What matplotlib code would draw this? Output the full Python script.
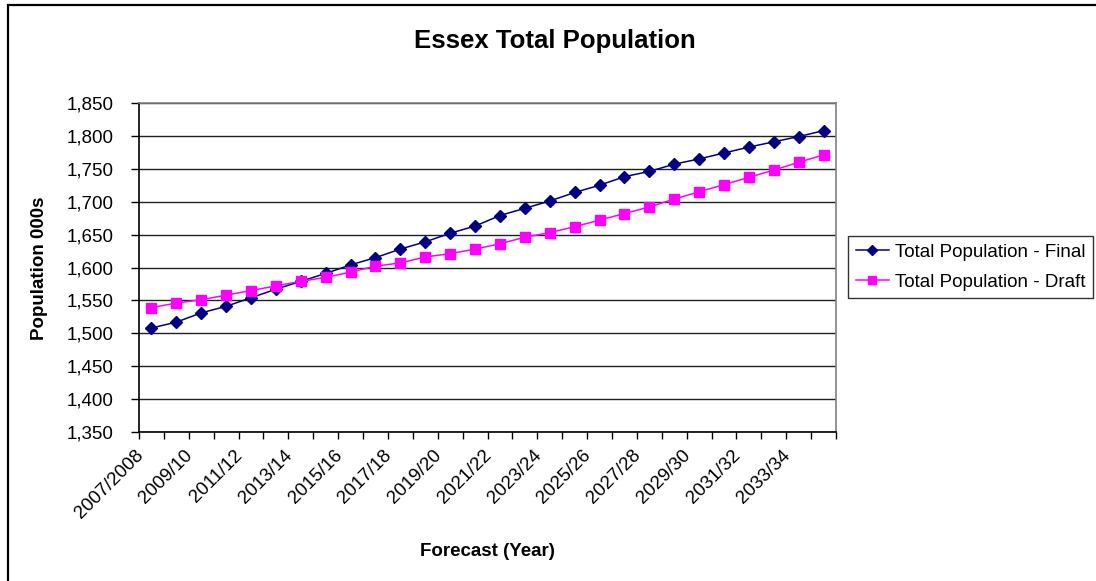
import matplotlib
matplotlib.use("Agg")
import matplotlib.pyplot as plt
from matplotlib.patches import Rectangle
from matplotlib.ticker import FuncFormatter, FixedLocator, NullLocator
from matplotlib.transforms import ScaledTranslation

plt.rcParams['font.family'] = ['Liberation Sans', 'DejaVu Sans']

years = ["2007/2008", "2008/09", "2009/10", "2010/11", "2011/12", "2012/13", "2013/14",
         "2014/15", "2015/16", "2016/17", "2017/18", "2018/19", "2019/20", "2020/21",
         "2021/22", "2022/23", "2023/24", "2024/25", "2025/26", "2026/27", "2027/28",
         "2028/29", "2029/30", "2030/31", "2031/32", "2032/33", "2033/34", "2034/35"]
final = [1508, 1517, 1531, 1541, 1554, 1567, 1579, 1591, 1604, 1615, 1628, 1639, 1652, 1663,
         1679, 1690, 1701, 1714, 1725, 1738, 1746, 1757, 1765, 1774, 1783, 1791, 1799, 1808]
draft = [1539, 1546, 1551, 1558, 1565, 1572, 1579, 1585, 1593, 1602, 1607, 1616, 1621, 1628,
         1636, 1646, 1653, 1662, 1672, 1682, 1692, 1704, 1715, 1726, 1737, 1748, 1760, 1771]

W, H = 1096, 581
fig = plt.figure(figsize=(W / 100, H / 100), dpi=100)
fig.patch.set_facecolor('white')

# chart border (only top/left visible in the reference)
fig.add_artist(Rectangle((8 / W, -0.05), 1.2, 1 - 5 / H + 0.05, transform=fig.transFigure,
                         fill=False, edgecolor='black', linewidth=1.6, clip_on=False))

ax = fig.add_axes([139 / W, 1 - 432 / H, (836 - 139) / W, (432 - 103) / H])

x = list(range(len(years)))
ax.plot(x, final, color='#000080', marker='D', markersize=6, linewidth=1.1,
        label='Total Population - Final', zorder=3)
ax.plot(x, draft, color='#FF00FF', marker='s', markersize=6.5, linewidth=1.1,
        label='Total Population - Draft', zorder=3)

ax.set_xlim(-0.5, len(years) - 0.5)
ax.set_ylim(1350, 1850)
ax.set_yticks(range(1350, 1851, 50))
ax.yaxis.set_major_formatter(FuncFormatter(lambda v, p: f'{v:,.0f}'))
ax.grid(axis='y', color='#202020', linewidth=1.0)
ax.set_axisbelow(True)

# tick marks between categories, slanted labels on every 2nd category
ax.xaxis.set_major_locator(FixedLocator([i - 0.5 for i in range(len(years) + 1)]))
ax.xaxis.set_minor_locator(NullLocator())
ax.tick_params(axis='x', length=5, width=1, color='black', labelbottom=False)
ax.tick_params(axis='y', length=6, width=1, pad=12, labelsize=13.5)
# excel puts the end of the slanted label a bit left of the category centre
off = ScaledTranslation(-17 / 100, -15 / 100, fig.dpi_scale_trans)
for i in x[::2]:
    ax.text(i, 0, years[i], transform=ax.get_xaxis_transform() + off, rotation=45,
            ha='right', va='top', rotation_mode='anchor', fontsize=13.5)

for s in ('left', 'bottom'):
    ax.spines[s].set_color('black')
    ax.spines[s].set_linewidth(1.2)
for s in ('top', 'right'):
    ax.spines[s].set_color('#808080')
    ax.spines[s].set_linewidth(1.2)

fig.text(555 / W, 1 - 41 / H, 'Essex Total Population', ha='center', va='center',
         fontsize=18.5, fontweight='bold')
fig.text(40 / W, 1 - 268 / H, 'Population 000s', ha='center', va='center', rotation=90,
         fontsize=13.5, fontweight='bold')
fig.text(487 / W, 1 - 551 / H, 'Forecast (Year)', ha='center', va='center',
         fontsize=13.5, fontweight='bold')

leg = fig.legend(loc='upper left', bbox_to_anchor=(848 / W, 1 - 236 / H), fontsize=13.5,
                 frameon=True, fancybox=False, handlelength=1.8, borderaxespad=0,
                 borderpad=0.4, labelspacing=0.7, handletextpad=0.3, markerscale=0.8)
leg.get_frame().set_edgecolor('black')
leg.get_frame().set_linewidth(1.0)

fig.savefig('out.png', dpi=100)
